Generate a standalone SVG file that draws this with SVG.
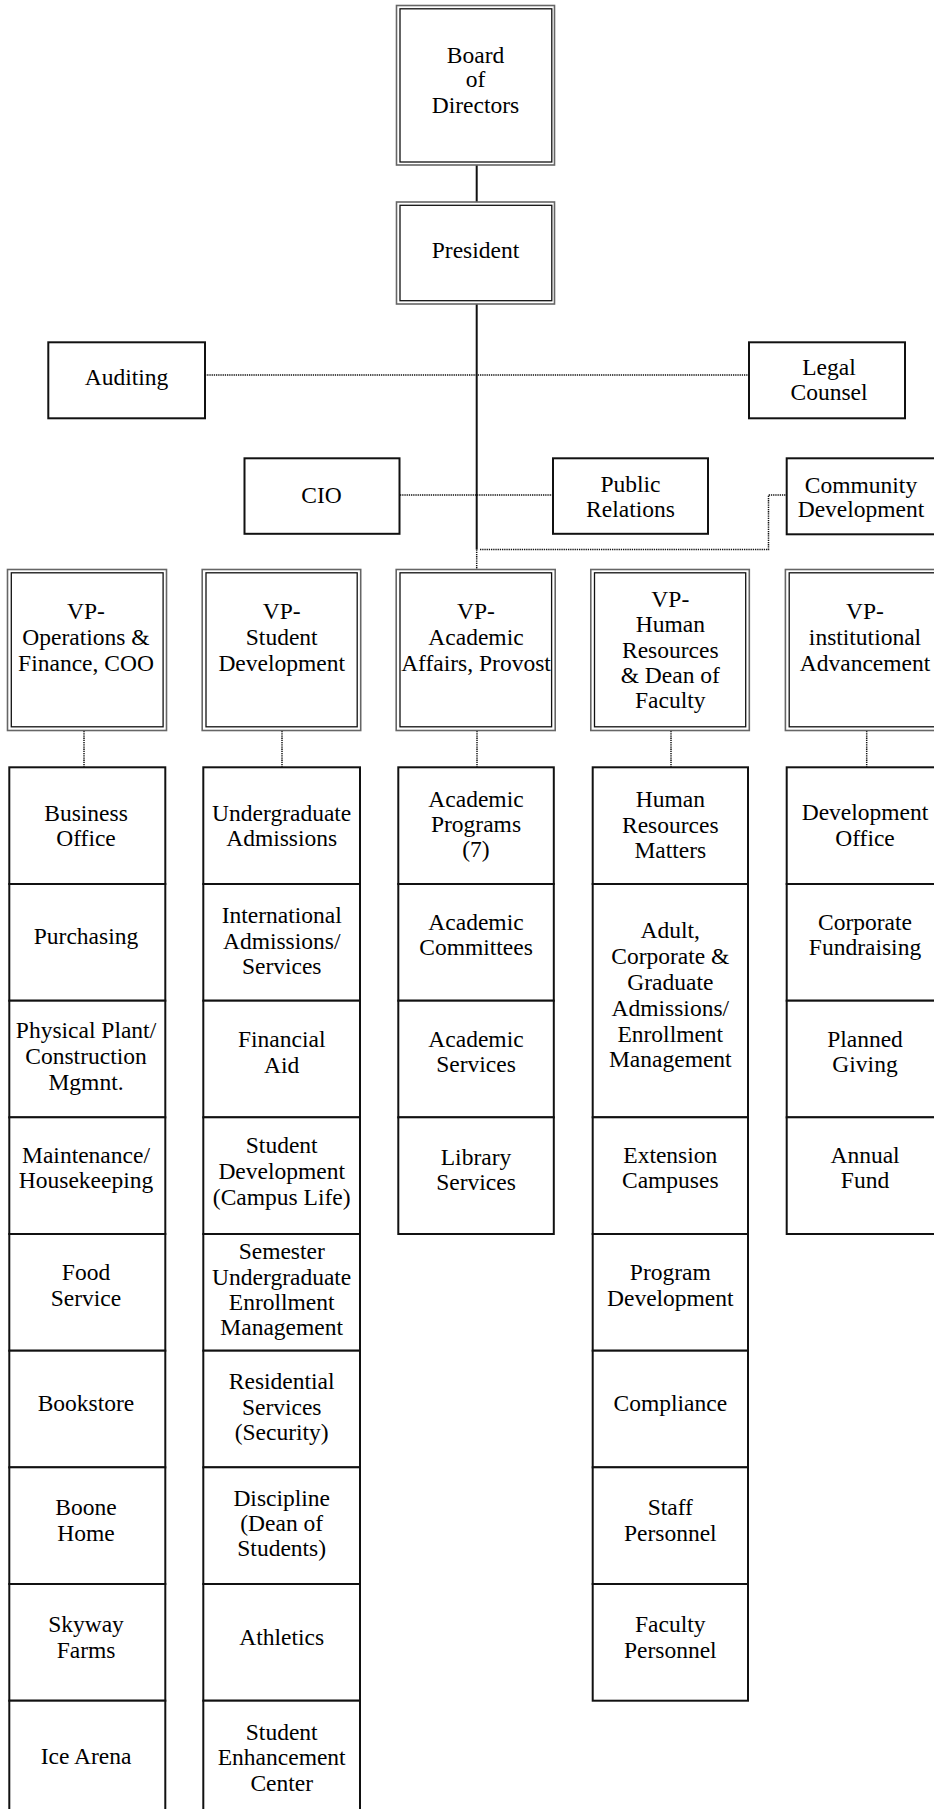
<svg xmlns="http://www.w3.org/2000/svg" width="934" height="1809" viewBox="0 0 934 1809">
<style>
.bg{fill:#fff}
.dbo{fill:#fff;stroke:#666;stroke-width:1.6}
.dbi{fill:none;stroke:#111;stroke-width:1.3}
.box{fill:#fff;stroke:#111;stroke-width:2}
.sub{fill:#fff;stroke:#111;stroke-width:2}
.t{font-family:'Liberation Serif','Tinos','DejaVu Serif','Times New Roman',Times,serif;font-size:23.5px;fill:#000;text-anchor:middle}
.solid{fill:none;stroke:#111;stroke-width:2}
.dot{fill:none;stroke:#111;stroke-width:1.5;stroke-dasharray:1.3 0.9}
</style>
<rect class="bg" x="0" y="0" width="934" height="1809"/>
<g id="connectors">
<path class="solid" d="M476.7 165 V202"/>
<path class="solid" d="M476.7 304 V549.5"/>
<path class="dot" d="M476.7 549.5 V569"/>
<path class="dot" d="M480 549.5 H768.5 V495 H786.7"/>
<path class="dot" d="M205 375 H749"/>
<path class="dot" d="M400 495 H553"/>
<path class="dot" d="M84 731 V767"/>
<path class="dot" d="M282 731 V767"/>
<path class="dot" d="M477 731 V767"/>
<path class="dot" d="M671 731 V767"/>
<path class="dot" d="M866.7 731 V767"/>
</g>
<g id="board">
<rect class="dbo" x="396.5" y="5.5" width="158" height="159.5"/>
<rect class="dbi" x="400" y="8.8" width="151.8" height="153.2"/>
<text class="t"><tspan x="475.5" y="62.7">Board</tspan><tspan x="475.5" y="87.3">of</tspan><tspan x="475.5" y="113.3">Directors</tspan></text>
</g>
<g id="president">
<rect class="dbo" x="396.5" y="202" width="158" height="102"/>
<rect class="dbi" x="400" y="205.3" width="151.8" height="95.4"/>
<text class="t" x="475.5" y="257.7">President</text>
</g>
<g id="auditing">
<rect class="box" x="48.3" y="342.3" width="156.7" height="76"/>
<text class="t" x="126.5" y="385">Auditing</text>
</g>
<g id="legal">
<rect class="box" x="749" y="342.3" width="156" height="76"/>
<text class="t"><tspan x="829" y="375">Legal</tspan><tspan x="829" y="400">Counsel</tspan></text>
</g>
<g id="cio">
<rect class="box" x="244.5" y="458.3" width="155" height="75.5"/>
<text class="t" x="321.5" y="502.7">CIO</text>
</g>
<g id="public-relations">
<rect class="box" x="553" y="458.3" width="155" height="75.5"/>
<text class="t"><tspan x="630.5" y="491.7">Public</tspan><tspan x="630.5" y="516.7">Relations</tspan></text>
</g>
<g id="community">
<rect class="box" x="786.7" y="458.3" width="156" height="76"/>
<text class="t"><tspan x="861" y="492.5">Community</tspan><tspan x="861" y="516.7">Development</tspan></text>
</g>
<g id="vp-ops">
<rect class="dbo" x="7.5" y="569.5" width="159" height="161"/>
<rect class="dbi" x="11.3" y="572.8" width="151.8" height="154"/>
<text class="t"><tspan x="86" y="619.3">VP-</tspan><tspan x="86" y="645">Operations &amp;</tspan><tspan x="86" y="671">Finance, COO</tspan></text>
</g>
<g id="vp-student">
<rect class="dbo" x="202.2" y="569.5" width="158.5" height="161"/>
<rect class="dbi" x="206" y="572.8" width="151.2" height="154"/>
<text class="t"><tspan x="281.7" y="619.3">VP-</tspan><tspan x="281.7" y="645">Student</tspan><tspan x="281.7" y="671">Development</tspan></text>
</g>
<g id="vp-academic">
<rect class="dbo" x="396.2" y="569.5" width="159" height="161"/>
<rect class="dbi" x="400" y="572.8" width="151.6" height="154"/>
<text class="t"><tspan x="476" y="619.3">VP-</tspan><tspan x="476" y="645">Academic</tspan><tspan x="476" y="671">Affairs, Provost</tspan></text>
</g>
<g id="vp-hr">
<rect class="dbo" x="590.8" y="569.5" width="158.5" height="161"/>
<rect class="dbi" x="594.5" y="572.8" width="151.2" height="154"/>
<text class="t"><tspan x="670.3" y="606.7">VP-</tspan><tspan x="670.3" y="632.3">Human</tspan><tspan x="670.3" y="657.7">Resources</tspan><tspan x="670.3" y="683.3">&amp; Dean of</tspan><tspan x="670.3" y="708.3">Faculty</tspan></text>
</g>
<g id="vp-inst">
<rect class="dbo" x="785.4" y="569.5" width="159" height="161"/>
<rect class="dbi" x="789.2" y="572.8" width="151.6" height="154"/>
<text class="t"><tspan x="865" y="619.3">VP-</tspan><tspan x="865" y="645">institutional</tspan><tspan x="865" y="671">Advancement</tspan></text>
</g>
<g id="col1">
<g id="business-office"><rect class="sub" x="9.3" y="767.3" width="156" height="116.7"/><text class="t"><tspan x="86" y="820.7">Business</tspan><tspan x="86" y="846">Office</tspan></text></g>
<g id="purchasing"><rect class="sub" x="9.3" y="884" width="156" height="116.7"/><text class="t" x="86" y="944.3">Purchasing</text></g>
<g id="physical-plant"><rect class="sub" x="9.3" y="1000.7" width="156" height="116.7"/><text class="t"><tspan x="86" y="1038.3">Physical Plant/</tspan><tspan x="86" y="1064">Construction</tspan><tspan x="86" y="1090">Mgmnt.</tspan></text></g>
<g id="maintenance"><rect class="sub" x="9.3" y="1117.3" width="156" height="116.7"/><text class="t"><tspan x="86" y="1162.7">Maintenance/</tspan><tspan x="86" y="1188.3">Housekeeping</tspan></text></g>
<g id="food-service"><rect class="sub" x="9.3" y="1234" width="156" height="116.7"/><text class="t"><tspan x="86" y="1280.4">Food</tspan><tspan x="86" y="1305.6">Service</tspan></text></g>
<g id="bookstore"><rect class="sub" x="9.3" y="1350.7" width="156" height="116.7"/><text class="t" x="86" y="1410.9">Bookstore</text></g>
<g id="boone-home"><rect class="sub" x="9.3" y="1467.3" width="156" height="116.7"/><text class="t"><tspan x="86" y="1515.3">Boone</tspan><tspan x="86" y="1541">Home</tspan></text></g>
<g id="skyway-farms"><rect class="sub" x="9.3" y="1584" width="156" height="116.7"/><text class="t"><tspan x="86" y="1632.2">Skyway</tspan><tspan x="86" y="1658.3">Farms</tspan></text></g>
<g id="ice-arena"><rect class="sub" x="9.3" y="1700.7" width="156" height="116.7"/><text class="t" x="86" y="1763.9">Ice Arena</text></g>
</g>
<g id="col2">
<g id="ug-admissions"><rect class="sub" x="203.3" y="767.3" width="156.7" height="116.7"/><text class="t"><tspan x="281.7" y="820.7">Undergraduate</tspan><tspan x="281.7" y="846">Admissions</tspan></text></g>
<g id="intl-admissions"><rect class="sub" x="203.3" y="884" width="156.7" height="116.7"/><text class="t"><tspan x="281.7" y="923.3">International</tspan><tspan x="281.7" y="949">Admissions/</tspan><tspan x="281.7" y="974.3">Services</tspan></text></g>
<g id="financial-aid"><rect class="sub" x="203.3" y="1000.7" width="156.7" height="116.7"/><text class="t"><tspan x="281.7" y="1047.3">Financial</tspan><tspan x="281.7" y="1073.3">Aid</tspan></text></g>
<g id="student-dev"><rect class="sub" x="203.3" y="1117.3" width="156.7" height="116.7"/><text class="t"><tspan x="281.7" y="1153.3">Student</tspan><tspan x="281.7" y="1179">Development</tspan><tspan x="281.7" y="1205">(Campus Life)</tspan></text></g>
<g id="semester-ug"><rect class="sub" x="203.3" y="1234" width="156.7" height="116.7"/><text class="t"><tspan x="281.7" y="1259.4">Semester</tspan><tspan x="281.7" y="1284.7">Undergraduate</tspan><tspan x="281.7" y="1309.9">Enrollment</tspan><tspan x="281.7" y="1335.1">Management</tspan></text></g>
<g id="residential"><rect class="sub" x="203.3" y="1350.7" width="156.7" height="116.7"/><text class="t"><tspan x="281.7" y="1389.1">Residential</tspan><tspan x="281.7" y="1414.8">Services</tspan><tspan x="281.7" y="1440">(Security)</tspan></text></g>
<g id="discipline"><rect class="sub" x="203.3" y="1467.3" width="156.7" height="116.7"/><text class="t"><tspan x="281.7" y="1505.6">Discipline</tspan><tspan x="281.7" y="1530.9">(Dean of</tspan><tspan x="281.7" y="1556.1">Students)</tspan></text></g>
<g id="athletics"><rect class="sub" x="203.3" y="1584" width="156.7" height="116.7"/><text class="t" x="281.7" y="1644.7">Athletics</text></g>
<g id="enhancement"><rect class="sub" x="203.3" y="1700.7" width="156.7" height="116.7"/><text class="t"><tspan x="281.7" y="1739.8">Student</tspan><tspan x="281.7" y="1765">Enhancement</tspan><tspan x="281.7" y="1791">Center</tspan></text></g>
</g>
<g id="col3">
<g id="acad-programs"><rect class="sub" x="398.3" y="767.3" width="155.5" height="116.7"/><text class="t"><tspan x="476" y="807">Academic</tspan><tspan x="476" y="832">Programs</tspan><tspan x="476" y="857">(7)</tspan></text></g>
<g id="acad-committees"><rect class="sub" x="398.3" y="884" width="155.5" height="116.7"/><text class="t"><tspan x="476" y="930">Academic</tspan><tspan x="476" y="955">Committees</tspan></text></g>
<g id="acad-services"><rect class="sub" x="398.3" y="1000.7" width="155.5" height="116.7"/><text class="t"><tspan x="476" y="1047.3">Academic</tspan><tspan x="476" y="1072.3">Services</tspan></text></g>
<g id="library"><rect class="sub" x="398.3" y="1117.3" width="155.5" height="116.7"/><text class="t"><tspan x="476" y="1165">Library</tspan><tspan x="476" y="1190">Services</tspan></text></g>
</g>
<g id="col4">
<g id="hr-matters"><rect class="sub" x="592.7" y="767.3" width="155.3" height="116.7"/><text class="t"><tspan x="670.3" y="807.3">Human</tspan><tspan x="670.3" y="832.7">Resources</tspan><tspan x="670.3" y="858.3">Matters</tspan></text></g>
<g id="adult"><rect class="sub" x="592.7" y="884" width="155.3" height="233.3"/><text class="t"><tspan x="670.3" y="938.3">Adult,</tspan><tspan x="670.3" y="964">Corporate &amp;</tspan><tspan x="670.3" y="990">Graduate</tspan><tspan x="670.3" y="1016">Admissions/</tspan><tspan x="670.3" y="1041.7">Enrollment</tspan><tspan x="670.3" y="1067.3">Management</tspan></text></g>
<g id="extension"><rect class="sub" x="592.7" y="1117.3" width="155.3" height="116.7"/><text class="t"><tspan x="670.3" y="1163.3">Extension</tspan><tspan x="670.3" y="1188.3">Campuses</tspan></text></g>
<g id="program-dev"><rect class="sub" x="592.7" y="1234" width="155.3" height="116.7"/><text class="t"><tspan x="670.3" y="1279.6">Program</tspan><tspan x="670.3" y="1305.6">Development</tspan></text></g>
<g id="compliance"><rect class="sub" x="592.7" y="1350.7" width="155.3" height="116.7"/><text class="t" x="670.3" y="1410.9">Compliance</text></g>
<g id="staff"><rect class="sub" x="592.7" y="1467.3" width="155.3" height="116.7"/><text class="t"><tspan x="670.3" y="1514.6">Staff</tspan><tspan x="670.3" y="1541">Personnel</tspan></text></g>
<g id="faculty"><rect class="sub" x="592.7" y="1584" width="155.3" height="116.7"/><text class="t"><tspan x="670.3" y="1632.2">Faculty</tspan><tspan x="670.3" y="1658.3">Personnel</tspan></text></g>
</g>
<g id="col5">
<g id="dev-office"><rect class="sub" x="786.7" y="767.3" width="156" height="116.7"/><text class="t"><tspan x="865" y="820">Development</tspan><tspan x="865" y="846">Office</tspan></text></g>
<g id="corp-fund"><rect class="sub" x="786.7" y="884" width="156" height="116.7"/><text class="t"><tspan x="865" y="930">Corporate</tspan><tspan x="865" y="955">Fundraising</tspan></text></g>
<g id="planned"><rect class="sub" x="786.7" y="1000.7" width="156" height="116.7"/><text class="t"><tspan x="865" y="1047.3">Planned</tspan><tspan x="865" y="1072.3">Giving</tspan></text></g>
<g id="annual"><rect class="sub" x="786.7" y="1117.3" width="156" height="116.7"/><text class="t"><tspan x="865" y="1163.3">Annual</tspan><tspan x="865" y="1188.3">Fund</tspan></text></g>
</g>
</svg>
